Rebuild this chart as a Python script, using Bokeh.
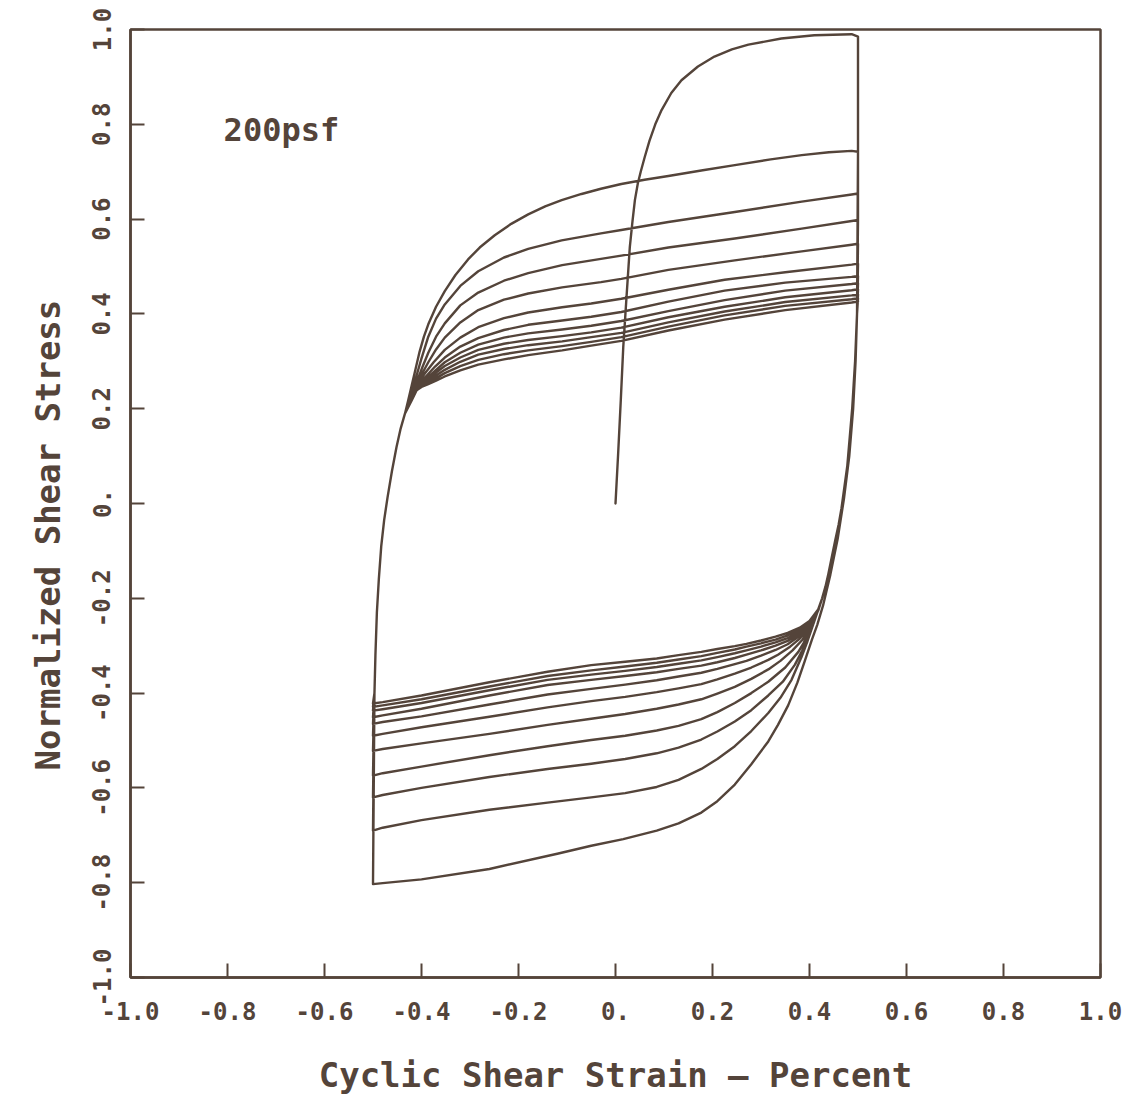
from bokeh.plotting import figure
from bokeh.models import Label, FixedTicker, Title
from bokeh.embed import file_html
from bokeh.resources import INLINE

INK = "#54443a"
FONT = "DejaVu Sans Mono"

# ---------------- data ----------------
# initial (virgin) loading curve, from the origin to the first peak
initial_x = [0.0, 0.0055, 0.011, 0.016, 0.023, 0.0295, 0.035, 0.04, 0.046, 0.052, 0.06, 0.07, 0.082,
             0.095, 0.115, 0.136, 0.17, 0.204, 0.24, 0.274, 0.342, 0.41, 0.487]
initial_y = [0.0, 0.106, 0.22, 0.33, 0.44, 0.541, 0.595, 0.64, 0.675, 0.70, 0.73, 0.765, 0.80,
             0.83, 0.866, 0.893, 0.922, 0.943, 0.958, 0.968, 0.981, 0.988, 0.99]

# reversal points: peaks at strain +0.5, troughs at strain -0.5
peak_strain = 0.5
trough_strain = -0.5
peaks = [0.985, 0.742, 0.654, 0.598, 0.548, 0.506, 0.48, 0.465, 0.452, 0.441, 0.433, 0.426]
troughs = [-0.803, -0.69, -0.62, -0.574, -0.522, -0.49, -0.465, -0.451, -0.437, -0.429, -0.422]

# shared steep part of every reloading branch (left side)
reload_band_x = [-0.497, -0.495, -0.492, -0.488, -0.483, -0.477, -0.47, -0.461, -0.4515, -0.443, -0.434]
reload_band_y = [-0.40, -0.32, -0.23, -0.16, -0.09, -0.035, 0.013, 0.068, 0.119, 0.158, 0.19]

# shared steep part of unloading branches 2..11 (right side)
unload_band_x = [0.498, 0.496, 0.494, 0.491, 0.488, 0.483, 0.478, 0.472, 0.466, 0.46, 0.453, 0.446, 0.439, 0.433, 0.426]
unload_band_y = [0.40, 0.35, 0.30, 0.25, 0.20, 0.14, 0.08, 0.035, -0.01, -0.045, -0.078, -0.113, -0.148, -0.175, -0.20]

# reloading branches (trough -> peak), own part after the shared band
reload_x = [
    [-0.428, -0.42, -0.412, -0.404, -0.395, -0.386, -0.37, -0.352, -0.33, -0.304, -0.28, -0.249, -0.215, -0.18,
     -0.145, -0.111, -0.07, -0.03, 0.012, 0.06, 0.109, 0.18, 0.246, 0.32, 0.384, 0.44, 0.487],
    [-0.425, -0.419, -0.409, -0.4, -0.386, -0.37, -0.352, -0.32, -0.283, -0.23, -0.18, -0.111, -0.03, 0.012,
     0.109, 0.246, 0.384, 0.487],
    [-0.424, -0.418, -0.407, -0.398, -0.386, -0.37, -0.352, -0.32, -0.283, -0.23, -0.18, -0.11, -0.03, 0.012,
     0.109, 0.246, 0.384, 0.487],
    [-0.424, -0.417, -0.406, -0.396, -0.386, -0.37, -0.352, -0.32, -0.283, -0.23, -0.18, -0.11, -0.03, 0.012,
     0.109, 0.246, 0.384, 0.487],
    [-0.423, -0.416, -0.405, -0.394, -0.375, -0.352, -0.32, -0.283, -0.23, -0.18, -0.11, -0.05, 0.012, 0.109,
     0.225, 0.35, 0.487],
    [-0.423, -0.415, -0.403, -0.39, -0.372, -0.352, -0.32, -0.283, -0.23, -0.18, -0.11, -0.05, 0.012, 0.109,
     0.225, 0.35, 0.487],
    [-0.422, -0.414, -0.4, -0.388, -0.37, -0.352, -0.32, -0.283, -0.23, -0.18, -0.11, -0.05, 0.012, 0.109,
     0.225, 0.35, 0.487],
    [-0.422, -0.413, -0.4, -0.386, -0.37, -0.352, -0.32, -0.283, -0.23, -0.18, -0.11, -0.05, 0.012, 0.109,
     0.225, 0.35, 0.487],
    [-0.421, -0.412, -0.4, -0.386, -0.37, -0.352, -0.32, -0.283, -0.23, -0.18, -0.11, -0.05, 0.012, 0.109,
     0.225, 0.35, 0.487],
    [-0.421, -0.411, -0.4, -0.386, -0.37, -0.352, -0.32, -0.283, -0.23, -0.18, -0.11, -0.05, 0.012, 0.109,
     0.225, 0.35, 0.487],
    [-0.42, -0.41, -0.4, -0.386, -0.37, -0.352, -0.32, -0.283, -0.23, -0.18, -0.11, -0.05, 0.012, 0.109,
     0.225, 0.35, 0.487],
]
reload_y = [
    [0.215, 0.25, 0.285, 0.32, 0.352, 0.378, 0.415, 0.448, 0.482, 0.515, 0.54, 0.566, 0.59, 0.61,
     0.627, 0.64, 0.653, 0.664, 0.674, 0.683, 0.691, 0.703, 0.714, 0.726, 0.735, 0.741, 0.744],
    [0.215, 0.238, 0.274, 0.306, 0.352, 0.39, 0.42, 0.459, 0.49, 0.519, 0.537, 0.555, 0.57, 0.577,
     0.594, 0.615, 0.637, 0.652],
    [0.215, 0.236, 0.264, 0.288, 0.318, 0.352, 0.38, 0.418, 0.445, 0.47, 0.486, 0.503, 0.516, 0.523,
     0.54, 0.559, 0.58, 0.596],
    [0.215, 0.237, 0.259, 0.279, 0.298, 0.325, 0.35, 0.382, 0.408, 0.43, 0.443, 0.456, 0.467, 0.474,
     0.493, 0.513, 0.532, 0.546],
    [0.216, 0.238, 0.256, 0.273, 0.298, 0.324, 0.35, 0.372, 0.391, 0.403, 0.414, 0.422, 0.432, 0.451,
     0.472, 0.488, 0.504],
    [0.216, 0.238, 0.254, 0.269, 0.289, 0.308, 0.331, 0.349, 0.366, 0.377, 0.386, 0.394, 0.404, 0.426,
     0.449, 0.466, 0.478],
    [0.217, 0.239, 0.254, 0.265, 0.282, 0.298, 0.318, 0.335, 0.35, 0.359, 0.367, 0.375, 0.385, 0.406,
     0.429, 0.449, 0.463],
    [0.217, 0.239, 0.252, 0.263, 0.276, 0.29, 0.308, 0.324, 0.337, 0.345, 0.353, 0.361, 0.371, 0.393,
     0.415, 0.435, 0.45],
    [0.217, 0.239, 0.25, 0.259, 0.27, 0.282, 0.299, 0.314, 0.326, 0.334, 0.342, 0.351, 0.36, 0.382,
     0.405, 0.425, 0.439],
    [0.218, 0.239, 0.248, 0.255, 0.264, 0.275, 0.29, 0.303, 0.315, 0.323, 0.332, 0.341, 0.351, 0.373,
     0.397, 0.417, 0.431],
    [0.218, 0.239, 0.246, 0.252, 0.259, 0.268, 0.281, 0.293, 0.304, 0.313, 0.323, 0.333, 0.343, 0.365,
     0.388, 0.408, 0.424],
]

# unloading branches (peak -> trough); the first one has its own steep part
unload_x = [
    [0.5, 0.498, 0.495, 0.49, 0.482, 0.471, 0.458, 0.443, 0.428, 0.416, 0.405, 0.39, 0.375, 0.356, 0.335,
     0.315, 0.28, 0.246, 0.21, 0.177, 0.13, 0.085, 0.016, -0.05, -0.12, -0.26, -0.4, -0.48],
    [0.41, 0.396, 0.3835, 0.363, 0.34, 0.315, 0.28, 0.246, 0.21, 0.177, 0.13, 0.085, 0.02, -0.05, -0.14,
     -0.26, -0.4, -0.48],
    [0.412, 0.398, 0.385, 0.37, 0.345, 0.315, 0.28, 0.246, 0.21, 0.177, 0.13, 0.085, 0.02, -0.05, -0.14,
     -0.26, -0.4, -0.48],
    [0.413, 0.4, 0.388, 0.377, 0.35, 0.315, 0.28, 0.246, 0.21, 0.177, 0.13, 0.085, 0.02, -0.05, -0.14,
     -0.26, -0.4, -0.48],
    [0.414, 0.4, 0.385, 0.365, 0.34, 0.315, 0.28, 0.246, 0.21, 0.177, 0.13, 0.085, 0.02, -0.05, -0.14,
     -0.26, -0.4, -0.48],
    [0.415, 0.4, 0.38, 0.36, 0.335, 0.315, 0.28, 0.246, 0.21, 0.177, 0.13, 0.085, 0.02, -0.05, -0.14,
     -0.26, -0.4, -0.48],
    [0.416, 0.4, 0.38, 0.355, 0.33, 0.3, 0.27, 0.246, 0.21, 0.177, 0.13, 0.085, 0.02, -0.05, -0.14,
     -0.26, -0.4, -0.48],
    [0.417, 0.4, 0.38, 0.355, 0.33, 0.3, 0.27, 0.246, 0.21, 0.177, 0.13, 0.085, 0.02, -0.05, -0.14,
     -0.26, -0.4, -0.48],
    [0.418, 0.4, 0.38, 0.355, 0.33, 0.3, 0.27, 0.246, 0.21, 0.177, 0.13, 0.085, 0.02, -0.05, -0.14,
     -0.26, -0.4, -0.48],
    [0.418, 0.4, 0.38, 0.355, 0.33, 0.3, 0.27, 0.246, 0.21, 0.177, 0.13, 0.085, 0.02, -0.05, -0.14,
     -0.26, -0.4, -0.48],
    [0.419, 0.4, 0.38, 0.355, 0.33, 0.3, 0.27, 0.246, 0.21, 0.177, 0.13, 0.085, 0.02, -0.05, -0.14,
     -0.26, -0.4, -0.48],
]
unload_y = [
    [0.6, 0.4, 0.3, 0.2, 0.1, 0.01, -0.075, -0.15, -0.215, -0.256, -0.287, -0.333, -0.378, -0.426, -0.467,
     -0.502, -0.55, -0.593, -0.628, -0.652, -0.675, -0.69, -0.708, -0.722, -0.739, -0.771, -0.793, -0.801],
    [-0.248, -0.29, -0.324, -0.372, -0.41, -0.442, -0.48, -0.512, -0.539, -0.56, -0.583, -0.598, -0.611,
     -0.62, -0.631, -0.646, -0.668, -0.684],
    [-0.242, -0.28, -0.31, -0.34, -0.376, -0.405, -0.436, -0.46, -0.481, -0.498, -0.515, -0.527, -0.539,
     -0.549, -0.56, -0.577, -0.60, -0.615],
    [-0.238, -0.27, -0.294, -0.313, -0.346, -0.376, -0.40, -0.421, -0.44, -0.455, -0.469, -0.479, -0.49,
     -0.499, -0.512, -0.531, -0.555, -0.569],
    [-0.235, -0.264, -0.288, -0.31, -0.332, -0.35, -0.37, -0.387, -0.401, -0.413, -0.424, -0.433, -0.444,
     -0.454, -0.467, -0.486, -0.506, -0.518],
    [-0.232, -0.26, -0.285, -0.302, -0.319, -0.33, -0.346, -0.359, -0.371, -0.381, -0.39, -0.398, -0.408,
     -0.417, -0.43, -0.45, -0.472, -0.486],
    [-0.23, -0.257, -0.279, -0.297, -0.309, -0.321, -0.332, -0.339, -0.349, -0.357, -0.365, -0.373, -0.382,
     -0.391, -0.403, -0.424, -0.449, -0.461],
    [-0.228, -0.255, -0.274, -0.29, -0.30, -0.31, -0.319, -0.326, -0.335, -0.342, -0.349, -0.356, -0.364,
     -0.372, -0.383, -0.405, -0.433, -0.447],
    [-0.226, -0.253, -0.27, -0.284, -0.293, -0.302, -0.31, -0.316, -0.324, -0.331, -0.338, -0.345, -0.353,
     -0.361, -0.372, -0.394, -0.421, -0.434],
    [-0.224, -0.251, -0.266, -0.278, -0.287, -0.295, -0.302, -0.308, -0.315, -0.322, -0.329, -0.336, -0.344,
     -0.352, -0.364, -0.386, -0.413, -0.426],
    [-0.222, -0.248, -0.262, -0.273, -0.281, -0.289, -0.296, -0.301, -0.307, -0.313, -0.32, -0.327, -0.334,
     -0.341, -0.355, -0.377, -0.405, -0.419],
]

tick_values = [-1.0, -0.8, -0.6, -0.4, -0.2, 0.0, 0.2, 0.4, 0.6, 0.8, 1.0]
tick_labels = ["-1.0", "-0.8", "-0.6", "-0.4", "-0.2", "0.", "0.2", "0.4", "0.6", "0.8", "1.0"]

x_title = "Cyclic Shear Strain – Percent"
y_title = "Normalized Shear Stress"
note = "200psf"

# ---------------- build the strain path from the data ----------------
xs = list(initial_x) + [peak_strain]
ys = list(initial_y) + [peaks[0]]
for k in range(len(troughs)):
    if k > 0:
        xs += unload_band_x
        ys += unload_band_y
    xs += unload_x[k] + [trough_strain]
    ys += unload_y[k] + [troughs[k]]
    xs += reload_band_x + reload_x[k] + [peak_strain]
    ys += reload_band_y + reload_y[k] + [peaks[k + 1]]

# ---------------- figure ----------------
p = figure(width=1126, height=1107, x_range=(-1, 1), y_range=(-1, 1),
           output_backend="svg", toolbar_location=None,
           min_border_left=130, min_border_right=26,
           min_border_top=29, min_border_bottom=130)
p.background_fill_color = "white"
p.border_fill_color = "white"
p.grid.visible = False
p.outline_line_color = INK
p.outline_line_width = 2.5

p.line(xs, ys, line_color=INK, line_width=2.4, line_join="round", line_cap="round")

for ax in (p.xaxis[0], p.yaxis[0]):
    ax.ticker = FixedTicker(ticks=tick_values)
    ax.major_label_overrides = {v: t for v, t in zip(tick_values, tick_labels)}
    ax.axis_line_color = INK
    ax.axis_line_width = 2.5
    ax.major_tick_line_color = INK
    ax.major_tick_line_width = 2
    ax.major_tick_in = 14
    ax.major_tick_out = 0
    ax.minor_tick_line_color = None
    ax.major_label_text_font = FONT
    ax.major_label_text_font_style = "bold"
    ax.major_label_text_font_size = "24px"
    ax.major_label_text_color = INK
    ax.axis_label_text_font = FONT
    ax.axis_label_text_font_style = "bold"
    ax.axis_label_text_font_size = "34px"
    ax.axis_label_text_color = INK

p.xaxis.axis_label = x_title
p.xaxis.major_label_standoff = 24
p.xaxis.axis_label_standoff = 32
p.yaxis.major_label_standoff = 20
p.yaxis.major_label_orientation = "vertical"

# y title as a side title, starting a little above the bottom like the reference
p.add_layout(Title(text=y_title, align="left", vertical_align="top", offset=207, standoff=40,
                   text_font=FONT, text_font_size="34px", text_font_style="bold",
                   text_color=INK), "left")

p.add_layout(Label(x=-0.808, y=0.787, text=note, text_font=FONT,
                   text_font_size="32px", text_font_style="bold", text_color=INK,
                   text_baseline="alphabetic"))

open("out.html", "w").write(file_html(p, INLINE))
